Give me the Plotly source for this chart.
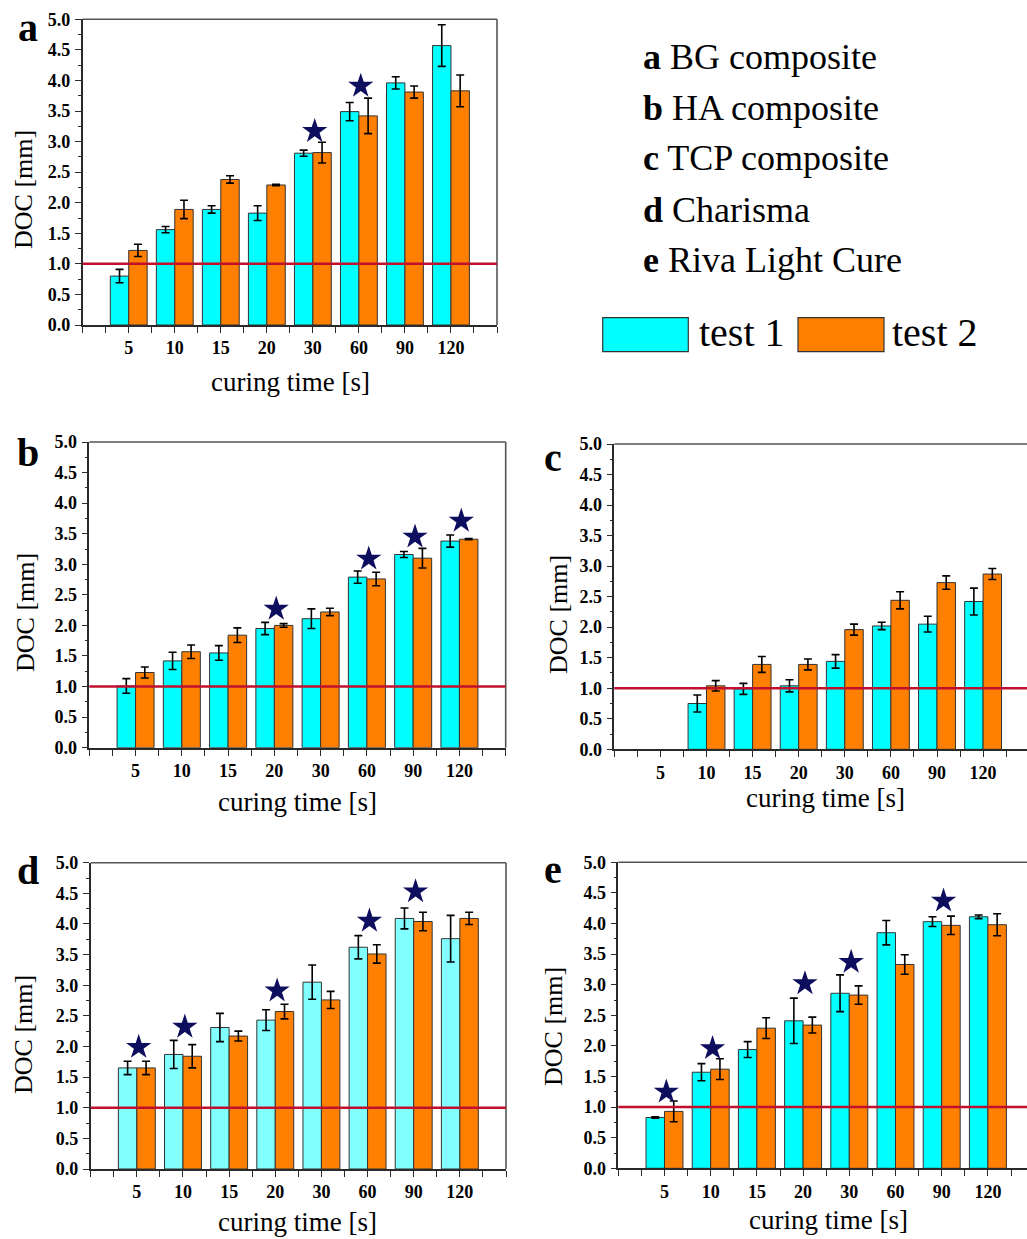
import plotly.graph_objects as go

# ---------------- data ----------------
categories = ["5", "10", "15", "20", "30", "60", "90", "120"]

a_test1 = [0.80, 1.56, 1.89, 1.83, 2.81, 3.49, 3.96, 4.57]
a_test1_err = [0.11, 0.05, 0.06, 0.12, 0.05, 0.15, 0.10, 0.34]
a_test2 = [1.22, 1.89, 2.38, 2.29, 2.82, 3.42, 3.81, 3.83]
a_test2_err = [0.10, 0.15, 0.06, 0.01, 0.17, 0.29, 0.10, 0.26]
a_star_cat = ["30", "60"]
a_star_y = [3.17, 3.91]

b_test1 = [1.01, 1.42, 1.55, 1.95, 2.11, 2.79, 3.16, 3.38]
b_test1_err = [0.12, 0.14, 0.12, 0.10, 0.16, 0.10, 0.05, 0.10]
b_test2 = [1.23, 1.57, 1.84, 2.00, 2.22, 2.76, 3.10, 3.41]
b_test2_err = [0.09, 0.11, 0.12, 0.03, 0.06, 0.11, 0.16, 0.01]
b_star_cat = ["20", "60", "90", "120"]
b_star_y = [2.27, 3.09, 3.45, 3.71]

c_test1 = [None, 0.75, 0.99, 1.04, 1.44, 2.02, 2.05, 2.42]
c_test1_err = [0, 0.14, 0.09, 0.10, 0.11, 0.06, 0.13, 0.22]
c_test2 = [None, 1.04, 1.39, 1.39, 1.96, 2.44, 2.73, 2.87]
c_test2_err = [0, 0.085, 0.13, 0.09, 0.09, 0.14, 0.11, 0.09]
c_star_cat = []
c_star_y = []

d_test1 = [1.65, 1.87, 2.31, 2.43, 3.05, 3.62, 4.09, 3.76]
d_test1_err = [0.11, 0.23, 0.23, 0.17, 0.28, 0.19, 0.17, 0.38]
d_test2 = [1.65, 1.84, 2.17, 2.57, 2.76, 3.51, 4.04, 4.09]
d_test2_err = [0.11, 0.19, 0.08, 0.12, 0.14, 0.15, 0.15, 0.10]
d_star_cat = ["5", "10", "20", "60", "90"]
d_star_y = [1.99, 2.32, 2.91, 4.05, 4.53]

e_test1 = [0.83, 1.57, 1.94, 2.41, 2.86, 3.85, 4.03, 4.11]
e_test1_err = [0.01, 0.14, 0.13, 0.37, 0.30, 0.20, 0.08, 0.03]
e_test2 = [0.93, 1.62, 2.29, 2.34, 2.83, 3.33, 3.97, 3.98]
e_test2_err = [0.17, 0.17, 0.17, 0.13, 0.15, 0.16, 0.15, 0.18]
e_star_cat = ["5", "10", "20", "30", "90"]
e_star_y = [1.25, 1.96, 3.02, 3.37, 4.37]

threshold = 1.0

legend_lines = [("a", "BG composite"), ("b", "HA composite"), ("c", "TCP composite"),
                ("d", "Charisma"), ("e", "Riva Light Cure")]
series_names = ["test 1", "test 2"]

# ---------------- style / layout ----------------
W, H = 1027, 1239
FONT = "Liberation Serif"
CYAN = "#00FFFF"
CYAN_LIGHT = "#82FFFF"
ORANGE = "#FF8000"
STAR = "#0E0E5E"
RED = "#C0102E"
AX = "#2a2a2a"
TOPLINE = "#555555"

def px(x):
    return x / W

def py(y):
    return 1 - y / H

positions = list(range(1, len(categories) + 1))
pos_of = dict(zip(categories, positions))

panels = [
    dict(key="a", t1=a_test1, e1=a_test1_err, t2=a_test2, e2=a_test2_err, sc=a_star_cat, sy=a_star_y,
         box=(82.7, 497.0, 19.3, 325.0), xmax=9.0, full=True, c1=CYAN,
         label=(28, 27), xt=(290, 382), yt=(23, 190)),
    dict(key="b", t1=b_test1, e1=b_test1_err, t2=b_test2, e2=b_test2_err, sc=b_star_cat, sy=b_star_y,
         box=(89.3, 505.7, 442.0, 747.7), xmax=9.0, full=True, c1=CYAN,
         label=(28, 452), xt=(297, 802), yt=(25, 613)),
    dict(key="c", t1=c_test1, e1=c_test1_err, t2=c_test2, e2=c_test2_err, sc=c_star_cat, sy=c_star_y,
         box=(614.3, 1027.0, 444.0, 749.3), xmax=(1027 - 614.3) / 46.1, full=False, c1=CYAN,
         label=(553, 457), xt=(825, 798), yt=(558, 615)),
    dict(key="d", t1=d_test1, e1=d_test1_err, t2=d_test2, e2=d_test2_err, sc=d_star_cat, sy=d_star_y,
         box=(90.7, 506.0, 862.7, 1169.0), xmax=9.0, full=True, c1=CYAN_LIGHT,
         label=(28, 870), xt=(297, 1222), yt=(23, 1035)),
    dict(key="e", t1=e_test1, e1=e_test1_err, t2=e_test2, e2=e_test2_err, sc=e_star_cat, sy=e_star_y,
         box=(618.3, 1027.0, 862.3, 1168.3), xmax=(1027 - 618.3) / 46.2, full=False, c1=CYAN,
         label=(553, 869), xt=(828, 1220), yt=(553, 1027)),
]

fig = go.Figure()
layout = dict(
    width=W, height=H, margin=dict(l=0, r=0, t=0, b=0, autoexpand=False),
    paper_bgcolor="white", plot_bgcolor="white",
    barmode="overlay", showlegend=False,
    font=dict(family=FONT, color="black"),
    shapes=[], annotations=[],
)

for i, p in enumerate(panels):
    n = i + 1
    xa = "x" if n == 1 else f"x{n}"
    ya = "y" if n == 1 else f"y{n}"
    l, r, t, b = p["box"]

    err_style = dict(type="data", color="black", thickness=1.6, width=4, visible=True)
    fig.add_trace(go.Bar(
        x=positions, y=p["t1"], width=0.4, offset=-0.4,
        marker=dict(color=p["c1"], line=dict(color="#333333", width=1)),
        error_y=dict(array=p["e1"], **err_style), xaxis=xa, yaxis=ya, name=series_names[0]))
    fig.add_trace(go.Bar(
        x=positions, y=p["t2"], width=0.4, offset=0.0,
        marker=dict(color=ORANGE, line=dict(color="#333333", width=1)),
        error_y=dict(array=p["e2"], **err_style), xaxis=xa, yaxis=ya, name=series_names[1]))
    if p["sc"]:
        fig.add_trace(go.Scatter(
            x=[pos_of[c] + 0.04 for c in p["sc"]], y=p["sy"], mode="markers",
            marker=dict(symbol="star", size=19, color=STAR, line=dict(width=0)),
            xaxis=xa, yaxis=ya, hoverinfo="skip"))

    xkey = "xaxis" if n == 1 else f"xaxis{n}"
    ykey = "yaxis" if n == 1 else f"yaxis{n}"
    layout[xkey] = dict(
        domain=[px(l), min(px(r), 1.0)], anchor=ya, range=[0, p["xmax"]],
        tickmode="array", tickvals=positions, ticktext=categories,
        ticks="outside", ticklen=6, tickwidth=1.4, tickcolor=AX,
        minor=dict(tick0=0, dtick=0.5, ticks="outside", ticklen=6, tickwidth=1.4, tickcolor=AX),
        showline=True, linecolor=AX, linewidth=1.6, mirror=False,
        showgrid=False, zeroline=False, fixedrange=True, automargin=False,
        tickfont=dict(family=FONT, size=18, color="black", weight="bold"),
        ticklabelstandoff=0,
    )
    layout[ykey] = dict(
        domain=[py(b), py(t)], anchor=xa, range=[0, 5],
        tick0=0, dtick=0.5, tickformat=".1f",
        ticks="outside", ticklen=6, tickwidth=1.4, tickcolor=AX,
        minor=dict(tick0=0, dtick=0.25, ticks="outside", ticklen=3, tickwidth=1.2, tickcolor=AX),
        showline=True, linecolor=AX, linewidth=1.6, mirror=False,
        showgrid=False, zeroline=False, fixedrange=True, automargin=False,
        tickfont=dict(family=FONT, size=18, color="black", weight="bold"),
        ticklabelstandoff=1,
    )

    # grey frame on top (and right, where visible)
    layout["shapes"].append(dict(
        type="line", xref=f"{xa} domain", yref=f"{ya} domain", x0=0, x1=1, y0=1, y1=1,
        line=dict(color=TOPLINE, width=1.6), layer="above"))
    if p["full"]:
        layout["shapes"].append(dict(
            type="line", xref=f"{xa} domain", yref=f"{ya} domain", x0=1, x1=1, y0=0, y1=1,
            line=dict(color=TOPLINE, width=1.6), layer="above"))

    layout["shapes"].append(dict(
        type="line", xref=f"{xa} domain", yref=ya, x0=0, x1=1, y0=threshold, y1=threshold,
        line=dict(color=RED, width=2.5), layer="above"))

    layout["annotations"].append(dict(
        text=f"<b>{p['key']}</b>", xref="paper", yref="paper",
        x=px(p["label"][0]), y=py(p["label"][1]), xanchor="center", yanchor="middle",
        showarrow=False, font=dict(family=FONT, size=40, color="black")))
    layout["annotations"].append(dict(
        text="curing time [s]", xref="paper", yref="paper",
        x=px(p["xt"][0]), y=py(p["xt"][1]), xanchor="center", yanchor="middle",
        showarrow=False, font=dict(family=FONT, size=27, color="black")))
    layout["annotations"].append(dict(
        text="DOC [mm]", xref="paper", yref="paper", textangle=-90,
        x=px(p["yt"][0]), y=py(p["yt"][1]), xanchor="center", yanchor="middle",
        showarrow=False, font=dict(family=FONT, size=26, color="black")))

line_y = [56.7, 108, 158, 210, 260]
for (k, name), yy in zip(legend_lines, line_y):
    layout["annotations"].append(dict(
        text=f"<b>{k}</b> {name}", xref="paper", yref="paper",
        x=px(641), y=py(yy), xanchor="left", yanchor="middle",
        showarrow=False, font=dict(family=FONT, size=36, color="black")))

key_boxes = [(602.7, 688.3, CYAN, 697), (798.0, 884.0, ORANGE, 890)]
for (x0, x1, col, tx), nm in zip(key_boxes, series_names):
    layout["shapes"].append(dict(
        type="rect", xref="paper", yref="paper", x0=px(x0), x1=px(x1), y0=py(351.7), y1=py(317.7),
        fillcolor=col, line=dict(color="#333333", width=1.2)))
    layout["annotations"].append(dict(
        text=nm, xref="paper", yref="paper", x=px(tx), y=py(332),
        xanchor="left", yanchor="middle", showarrow=False,
        font=dict(family=FONT, size=40, color="black")))

fig.update_layout(**layout)
fig.write_html(
    "out.html",
    config={"displayModeBar": False},
    post_script="document.body.style.margin='0px';document.body.style.padding='0px';"
                "document.body.style.overflow='hidden';",
)
